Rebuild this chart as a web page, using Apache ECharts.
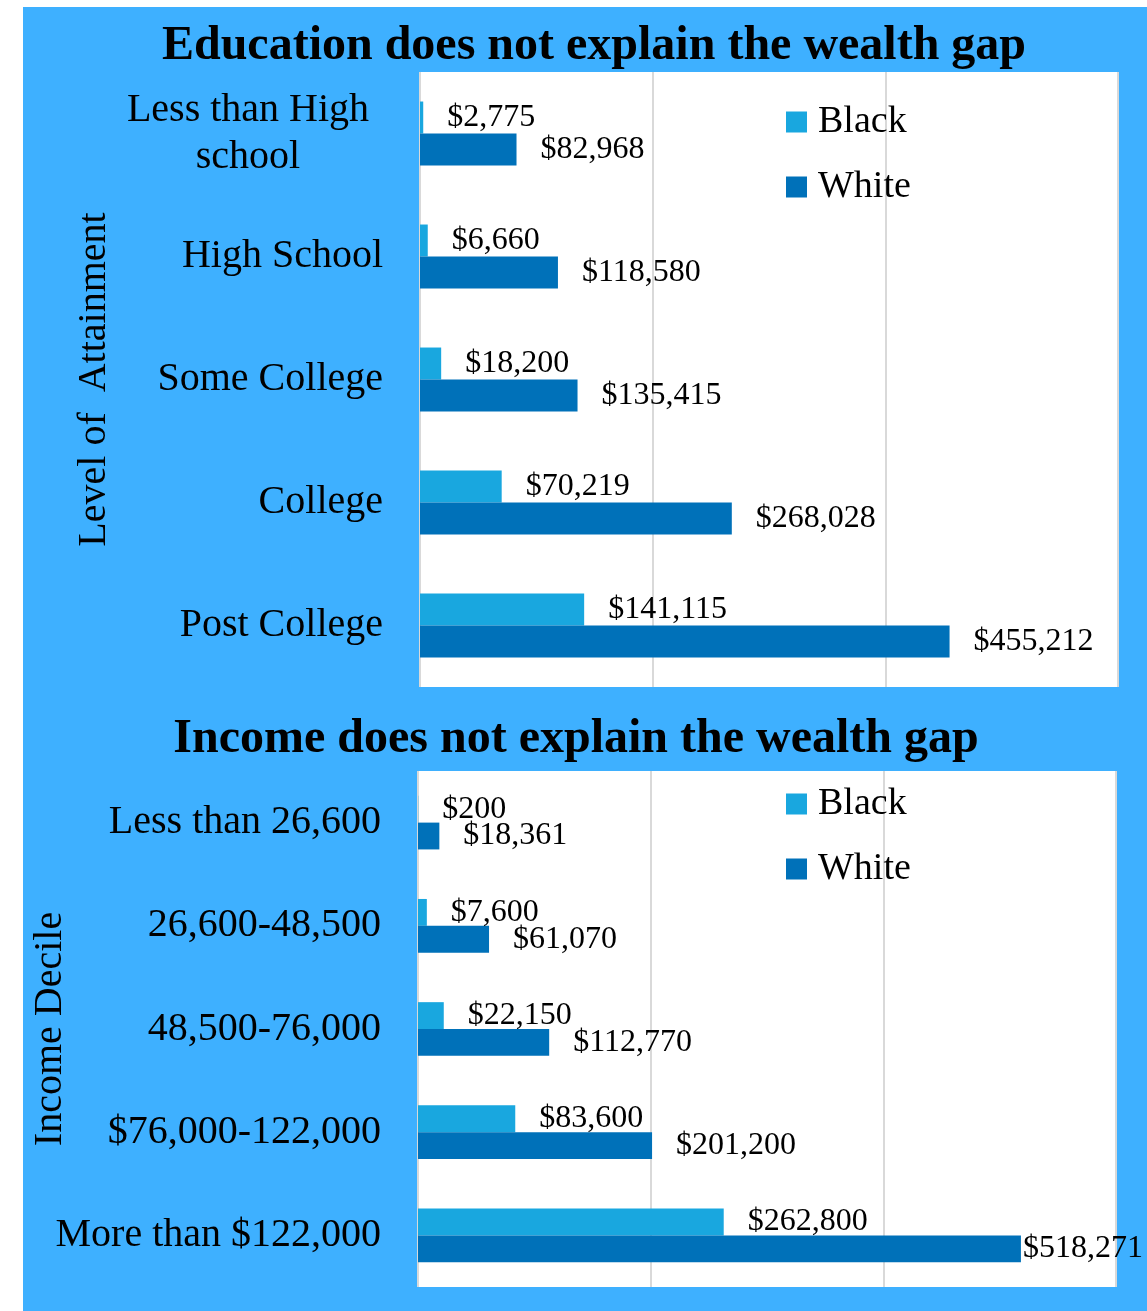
<!DOCTYPE html>
<html>
<head>
<meta charset="utf-8">
<script src="https://cdn.jsdelivr.net/npm/echarts@6/dist/echarts.min.js"></script>
<style>
  html, body { margin: 0; padding: 0; background: #ffffff; }
  #bg { position: absolute; left: 23px; top: 7px; width: 1124px; height: 1304px; background: #3EB0FF; }
  #chart { position: absolute; left: 0; top: 0; width: 1147px; height: 1311px; }
</style>
</head>
<body>
<div id="bg"></div>
<div id="chart"></div>
<script>
// Median household wealth by education level
const eduCategories = ['Less than High school', 'High School', 'Some College', 'College', 'Post College'];
const eduBlack = [2775, 6660, 18200, 70219, 141115];
const eduWhite = [82968, 118580, 135415, 268028, 455212];

// Median household wealth by income bracket
const incCategories = ['Less than 26,600', '26,600-48,500', '48,500-76,000', '$76,000-122,000', 'More than $122,000'];
const incBlack = [200, 7600, 22150, 83600, 262800];
const incWhite = [18361, 61070, 112770, 201200, 518271];

const seriesNames = ['Black', 'White'];
const colors = { Black: '#19A7DF', White: '#0071B9' };

const FONT = '"Liberation Serif", "DejaVu Serif", serif';
const CANVAS_W = 1147;
const money = v => '$' + v.toLocaleString('en-US');

function valueAxis(gridIndex) {
  return {
    type: 'value', gridIndex, min: 0, max: 600000, interval: 200000,
    axisLabel: { show: false }, axisTick: { show: false }, axisLine: { show: false },
    splitLine: { show: true, lineStyle: { color: '#d9d9d9', width: 2 } }
  };
}

function categoryAxis(gridIndex, data, name, nameGap) {
  return {
    type: 'category', gridIndex, data, inverse: true,
    axisLine: { show: false }, axisTick: { show: false },
    name, nameLocation: 'middle', nameRotate: 90, nameGap, nameMoveOverlap: false,
    nameTextStyle: { fontFamily: FONT, fontSize: 40, color: '#000' },
    axisLabel: {
      margin: 37, color: '#000', fontFamily: FONT, fontSize: 40,
      formatter: v => v === 'Less than High school' ? '{c|Less than High}\n{c|school}' : v,
      rich: { c: { width: 270, align: 'center', fontFamily: FONT, fontSize: 40, lineHeight: 47, color: '#000' } }
    }
  };
}

function barSeries(name, idx, data) {
  return {
    name, type: 'bar', xAxisIndex: idx, yAxisIndex: idx, data,
    barGap: '0%', barCategoryGap: '48%',
    itemStyle: { color: colors[name] },
    label: {
      show: true, position: 'right', distance: 24, color: '#000',
      fontFamily: FONT, fontSize: 32, formatter: p => money(p.value)
    },
    // a value label that would run off the page hugs its bar instead
    labelLayout: p => {
      const r = p.labelRect;
      if (r.x + r.width > CANVAS_W) {
        return {
          x: p.rect.x + p.rect.width + 2,
          y: p.rect.y + p.rect.height / 2,
          align: 'left', verticalAlign: 'middle'
        };
      }
      return {};
    },
    animation: false
  };
}

function legend(top) {
  return {
    data: seriesNames, orient: 'vertical', left: 781, top,
    icon: 'rect', itemWidth: 21, itemHeight: 21, itemGap: 27,
    textStyle: { fontFamily: FONT, fontSize: 38, lineHeight: 36, color: '#000', padding: [0, 0, 0, 6] }
  };
}

const chart = echarts.init(document.getElementById('chart'), null, { renderer: 'canvas' });
chart.setOption({
  backgroundColor: 'transparent',
  animation: false,
  title: [
    { text: 'Education does not explain the wealth gap', left: 589, top: 18, textAlign: 'center',
      textStyle: { fontFamily: FONT, fontSize: 48, fontWeight: 'bold', color: '#000' } },
    { text: 'Income does not explain the wealth gap', left: 571, top: 711, textAlign: 'center',
      textStyle: { fontFamily: FONT, fontSize: 48, fontWeight: 'bold', color: '#000' } }
  ],
  legend: [legend(98), legend(780)],
  grid: [
    { left: 420, top: 72, width: 698, height: 615, show: true, backgroundColor: '#ffffff', borderWidth: 0 },
    { left: 418, top: 771, width: 698, height: 516, show: true, backgroundColor: '#ffffff', borderWidth: 0 }
  ],
  xAxis: [valueAxis(0), valueAxis(1)],
  yAxis: [
    categoryAxis(0, eduCategories, 'Level of  Attainment', 306),
    categoryAxis(1, incCategories, 'Income Decile', 348)
  ],
  series: [
    barSeries('Black', 0, eduBlack),
    barSeries('White', 0, eduWhite),
    barSeries('Black', 1, incBlack),
    barSeries('White', 1, incWhite)
  ]
});
</script>
</body>
</html>
